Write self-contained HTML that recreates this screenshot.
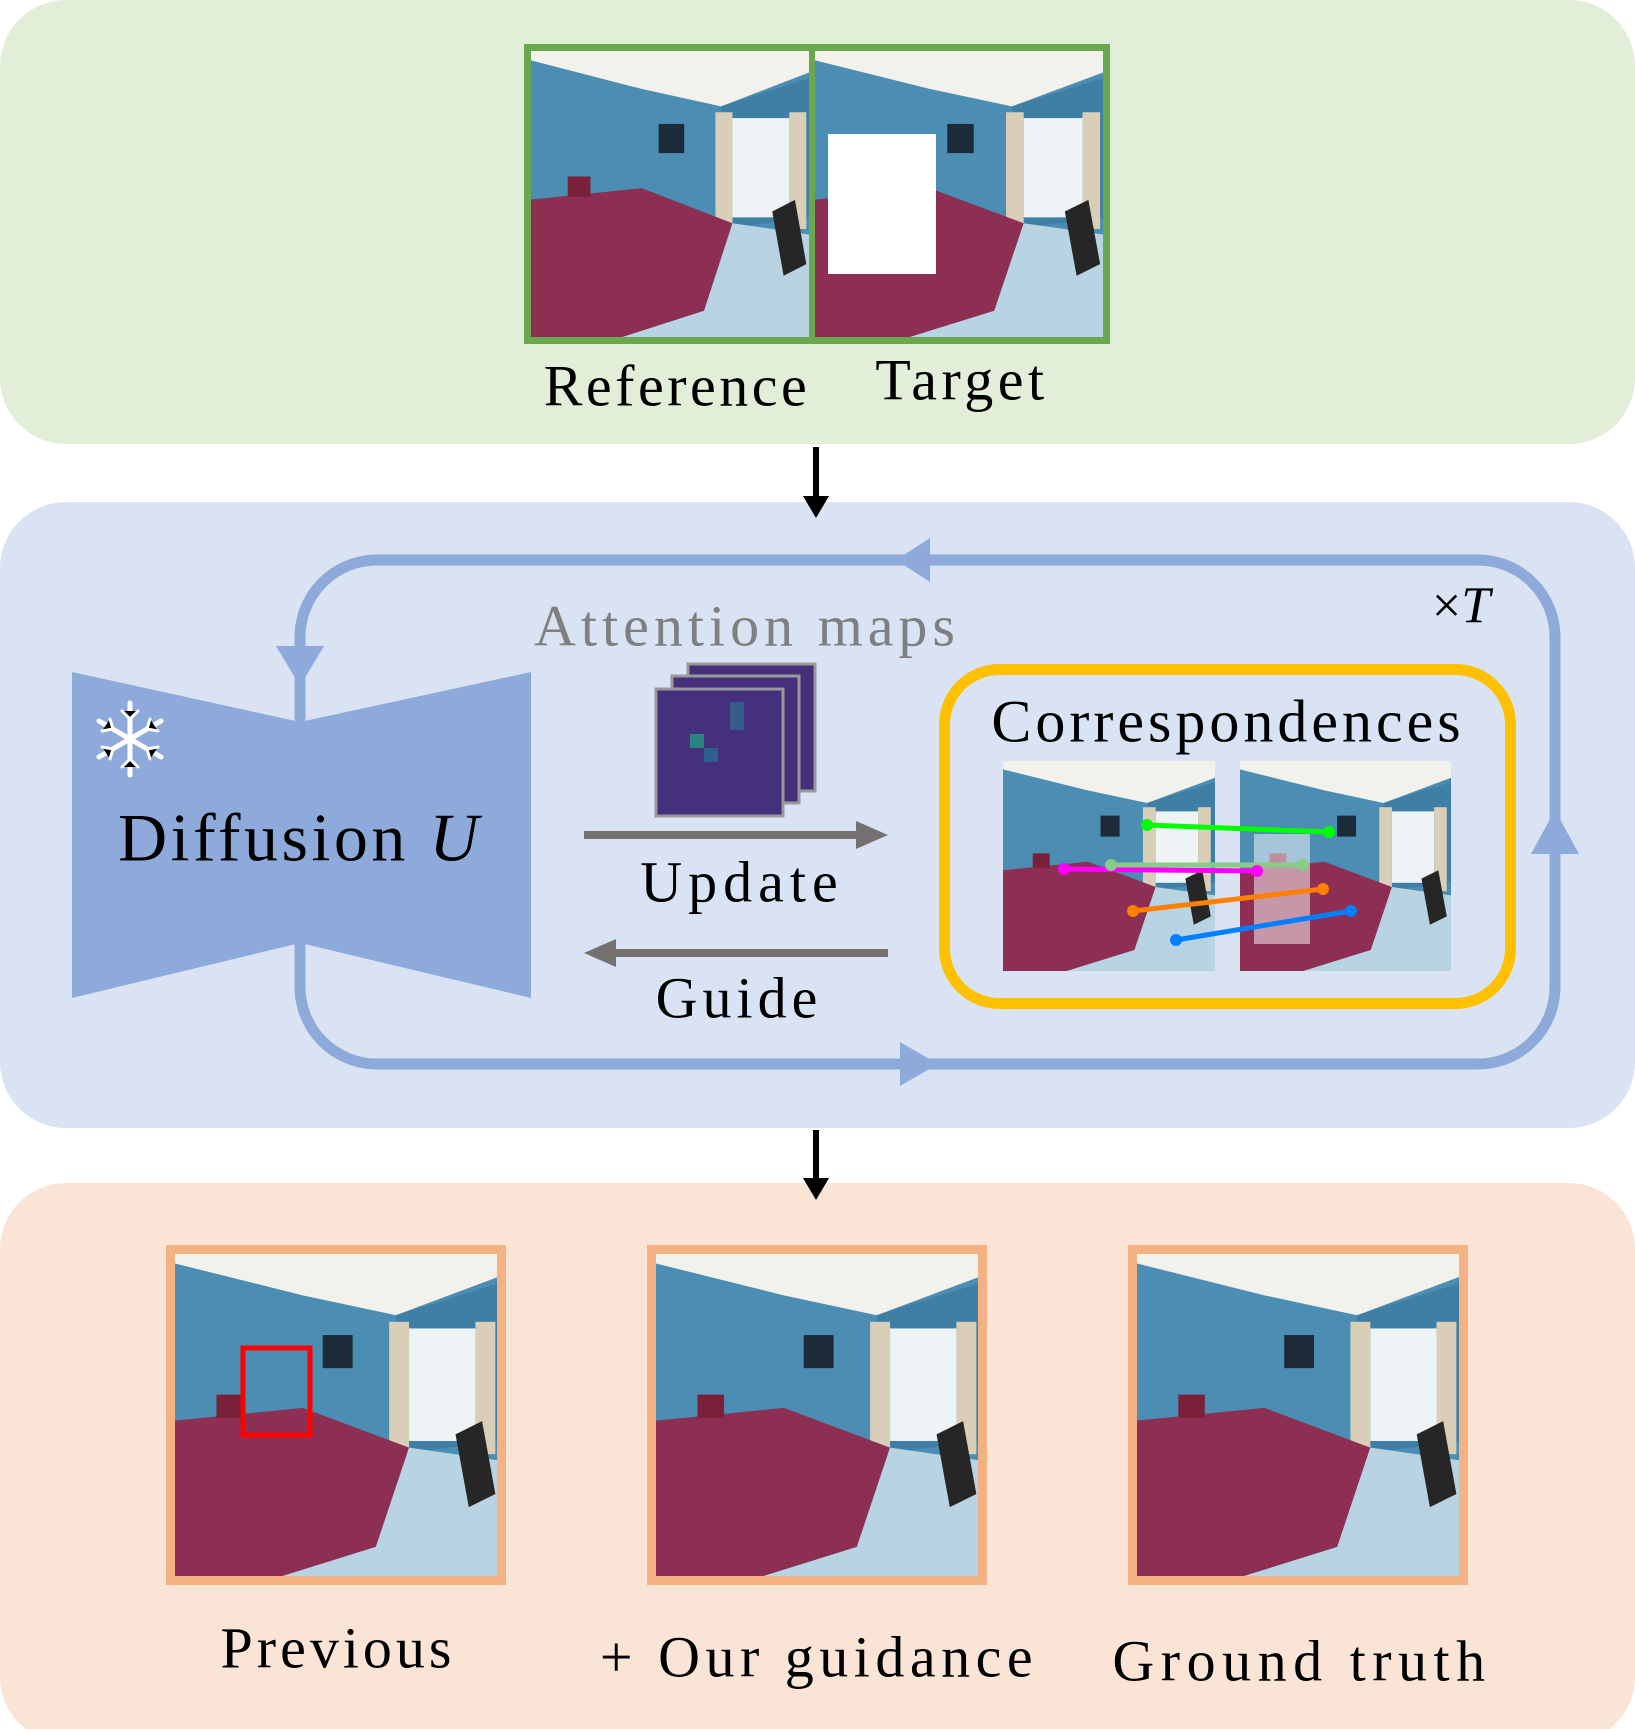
<!DOCTYPE html>
<html><head><meta charset="utf-8"><style>
body{margin:0;width:1635px;height:1729px;background:#fff;position:relative;overflow:hidden;font-family:"Liberation Serif",serif;}
.t{position:absolute;white-space:nowrap;transform:translate(-50%,-50%);color:#000;}
</style></head><body>
<svg width="1635" height="1729" style="position:absolute;left:0;top:0">
<defs>
<symbol id="room" viewBox="0 0 100 100" preserveAspectRatio="none">
<rect width="100" height="100" fill="#4b8db3"/>
<polygon points="0,0 100,0 100,8 68,20 40,14 0,4" fill="#f3f1ec"/>
<polygon points="68,20 100,10 100,58 68,62" fill="#3f7fa6"/>
<rect x="72" y="24" width="20" height="34" fill="#eef3f5"/>
<rect x="66" y="22" width="6" height="40" fill="#d9cfb8"/>
<rect x="92" y="22" width="6" height="40" fill="#d9cfb8"/>
<rect x="46" y="26" width="9" height="10" fill="#1d2a38"/>
<polygon points="0,52 40,48 72,60 62,90 30,100 0,100" fill="#8c2f53"/>
<polygon points="62,90 72,60 100,64 100,100 30,100" fill="#b8d3e2"/>
<polygon points="86,56 94,52 98,74 90,78" fill="#262626"/>
<rect x="14" y="44" width="8" height="7" fill="#7a2038"/>
</symbol>
</defs>
<rect x="0" y="0" width="1635" height="444" rx="66" fill="#e2eed8"/>
<rect x="0" y="502" width="1635" height="626" rx="66" fill="#dae3f3"/>
<rect x="0" y="1183" width="1635" height="560" rx="66" fill="#f9e4d6"/>
<use href="#room" x="528" y="48" width="284" height="292"/>
<use href="#room" x="812" y="48" width="294" height="292"/>
<rect x="828" y="134" width="108" height="140" fill="#fff"/>
<rect x="527.5" y="47.5" width="579" height="293" fill="none" stroke="#6aa84f" stroke-width="7"/>
<line x1="812" y1="46" x2="812" y2="342" stroke="#6aa84f" stroke-width="6"/>
<line x1="816" y1="447" x2="816" y2="500" stroke="#000" stroke-width="6"/>
<polygon points="803,496 829,496 816,518" fill="#000"/>
<line x1="816" y1="1130" x2="816" y2="1182" stroke="#000" stroke-width="6"/>
<polygon points="803,1178 829,1178 816,1200" fill="#000"/>
<rect x="300" y="560" width="1255" height="504" rx="77" fill="none" stroke="#8eaadb" stroke-width="11"/>
<polygon points="930,538 930,582 896,560" fill="#8eaadb"/>
<polygon points="276,646 324,646 300,686" fill="#8eaadb"/>
<polygon points="1531,854 1579,854 1555,810" fill="#8eaadb"/>
<polygon points="900,1042 900,1086 938,1064" fill="#8eaadb"/>
<polygon points="72,672 300,722 531,672 531,998 300,943 72,998" fill="#8eaadb"/>
<g stroke="#fff" stroke-width="5" stroke-linecap="round" transform="translate(130,739)">
<line x1="0" y1="-36" x2="0" y2="36"/><line x1="-31" y1="-18" x2="31" y2="18"/><line x1="-31" y1="18" x2="31" y2="-18"/>
<g stroke-width="3"><path d="M-8,-28 L0,-20 L8,-28 M-8,28 L0,20 L8,28"/><path d="M-28,-8 L-17,-10 L-20,-20 M28,8 L17,10 L20,20 M-28,8 L-17,10 L-20,20 M28,-8 L17,-10 L20,-20"/></g>
</g>
<g stroke="#999" stroke-width="3">
<rect x="688" y="664" width="127" height="127" fill="#46307a"/>
<rect x="672" y="676" width="127" height="127" fill="#472f7c"/>
<rect x="656" y="689" width="127" height="127" fill="#45307d"/>
</g>
<rect x="690" y="734" width="14" height="14" fill="#27867f"/>
<rect x="704" y="748" width="14" height="14" fill="#2e5f8e"/>
<rect x="730" y="702" width="14" height="28" fill="#365c8d"/>
<line x1="584" y1="835" x2="860" y2="835" stroke="#767171" stroke-width="8"/>
<polygon points="856,821 888,835 856,849" fill="#767171"/>
<line x1="612" y1="953" x2="888" y2="953" stroke="#767171" stroke-width="8"/>
<polygon points="616,939 584,953 616,967" fill="#767171"/>
<rect x="944.5" y="669.5" width="566" height="334" rx="55" fill="none" stroke="#ffc000" stroke-width="11"/>
<use href="#room" x="1003" y="761" width="212" height="210"/>
<use href="#room" x="1240" y="761" width="211" height="210"/>
<rect x="1254" y="834" width="56" height="110" fill="#fff" opacity="0.5"/>
<g stroke-width="5" stroke-linecap="round">
<line x1="1147" y1="825" x2="1329" y2="832" stroke="#00ff00"/>
<line x1="1064" y1="869" x2="1257" y2="871" stroke="#ff00ff"/>
<line x1="1111" y1="865" x2="1303" y2="865" stroke="#88cc88"/>
<line x1="1133" y1="911" x2="1323" y2="889" stroke="#ff7f00"/>
<line x1="1176" y1="940" x2="1351" y2="911" stroke="#0080ff"/>
</g>
<g>
<circle cx="1147" cy="825" r="6" fill="#00ff00"/><circle cx="1329" cy="832" r="6" fill="#00ff00"/>
<circle cx="1064" cy="869" r="6" fill="#ff00ff"/><circle cx="1257" cy="871" r="6" fill="#ff00ff"/>
<circle cx="1111" cy="865" r="6" fill="#88cc88"/><circle cx="1303" cy="865" r="6" fill="#88cc88"/>
<circle cx="1133" cy="911" r="6" fill="#ff7f00"/><circle cx="1323" cy="889" r="6" fill="#ff7f00"/>
<circle cx="1176" cy="940" r="6" fill="#0080ff"/><circle cx="1351" cy="911" r="6" fill="#0080ff"/>
</g>
<use href="#room" x="170" y="1249" width="332" height="331"/>
<use href="#room" x="651" y="1249" width="332" height="331"/>
<use href="#room" x="1132" y="1249" width="331" height="331"/>
<g fill="none" stroke="#f4b183" stroke-width="9">
<rect x="170.5" y="1249.5" width="331" height="331"/>
<rect x="651.5" y="1249.5" width="331" height="331"/>
<rect x="1132.5" y="1249.5" width="331" height="331"/>
</g>
<rect x="243" y="1348" width="67" height="87" fill="none" stroke="#ff0000" stroke-width="5"/>
</svg>
<div class="t" style="left:677px;top:386px;font-size:58px;letter-spacing:3.5px">Reference</div>
<div class="t" style="left:962px;top:380px;font-size:58px;letter-spacing:4.5px">Target</div>
<div class="t" style="left:300px;top:838px;font-size:68px;letter-spacing:3.5px">Diffusion <i>U</i></div>
<div class="t" style="left:747px;top:626px;font-size:58px;letter-spacing:5px;color:#7f7f7f">Attention maps</div>
<div class="t" style="left:742px;top:882px;font-size:58px;letter-spacing:6px">Update</div>
<div class="t" style="left:739px;top:998px;font-size:58px;letter-spacing:5px">Guide</div>
<div class="t" style="left:1228px;top:722px;font-size:60px;letter-spacing:4px">Correspondences</div>
<div class="t" style="left:1461px;top:606px;font-size:52px">×<i>T</i></div>
<div class="t" style="left:338px;top:1648px;font-size:58px;letter-spacing:4px">Previous</div>
<div class="t" style="left:819px;top:1657px;font-size:58px;letter-spacing:5.5px">+ Our guidance</div>
<div class="t" style="left:1302px;top:1661px;font-size:58px;letter-spacing:6.5px">Ground truth</div>
</body></html>
